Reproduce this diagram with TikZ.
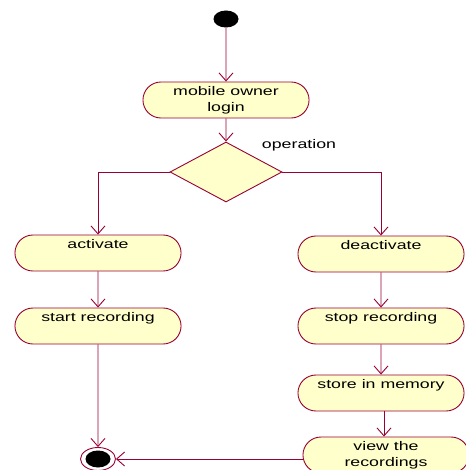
\documentclass[tikz,border=0pt]{standalone}
\usepackage{fontspec}
\setmainfont[FakeStretch=1.42]{Liberation Sans}
\usetikzlibrary{arrows.meta,shapes.geometric,shapes.misc}
\definecolor{umlline}{RGB}{153,0,51}
\definecolor{umlfill}{RGB}{255,255,204}
% top-aligned text inside an activity state
\newcommand\acttext[1]{\parbox[c][30pt][t]{150pt}{\centering\fontsize{12.5}{15.5}\selectfont\strut #1}}
\tikzset{
  activity/.style={rounded rectangle, draw=umlline, fill=umlfill, line width=0.9pt,
    minimum width=162pt, minimum height=36pt, inner sep=0pt},
  decision/.style={diamond, draw=umlline, fill=umlfill, line width=0.9pt,
    aspect=1.87, minimum width=112pt, minimum height=60pt, inner sep=0pt},
  flow/.style={draw=umlline, line width=0.9pt, -{Straight Barb[length=8pt,width=14pt]}},
  startdot/.style={ellipse, fill=black, minimum width=25pt, minimum height=17pt, inner sep=0pt},
}
\begin{document}
\begin{tikzpicture}[x=1pt,y=-1pt]
  \useasboundingbox (0,0) rectangle (465,470);

  \node[startdot] (start) at (226,19) {};
  \node[activity] (login) at (226,100) {\acttext{mobile owner\\login}};
  \node[decision] (op) at (226,172) {};
  \node[font=\fontsize{12.5}{15}\selectfont] (oplabel) at (299,145) {operation};

  \node[activity, minimum width=164pt] (act) at (98,253) {\acttext{activate}};
  \node[activity, minimum width=164pt] (startrec) at (98,326) {\acttext{start recording}};

  \node[activity] (deact) at (381,254) {\acttext{deactivate}};
  \node[activity] (stoprec) at (381,326) {\acttext{stop recording}};
  \node[activity] (store) at (381,393) {\acttext{store in memory}};
  \node[activity] (view) at (386,455) {\acttext{view the\\recordings}};

  % final state: ring around a filled dot
  \node[ellipse, draw=umlline, fill=white, line width=0.9pt, minimum width=35pt,
        minimum height=23pt, inner sep=0pt] (final) at (98,459) {};
  \node[startdot] (finaldot) at (final.center) {};

  \draw[flow] (start) -- (login);
  \draw[flow] (login) -- (op);
  \draw[flow] (op.west) -| (act.north);
  \draw[flow] (op.east) -| (deact.north);
  \draw[flow] (act) -- (startrec);
  \draw[flow] (startrec) -- (final);
  \draw[flow] (deact) -- (stoprec);
  \draw[flow] (stoprec) -- (store);
  \draw[flow] ([xshift=3pt]store.south) -- ([xshift=-2pt]view.north);
  \draw[flow] (view.west |- final.east) -- (final.east);
\end{tikzpicture}
\end{document}
